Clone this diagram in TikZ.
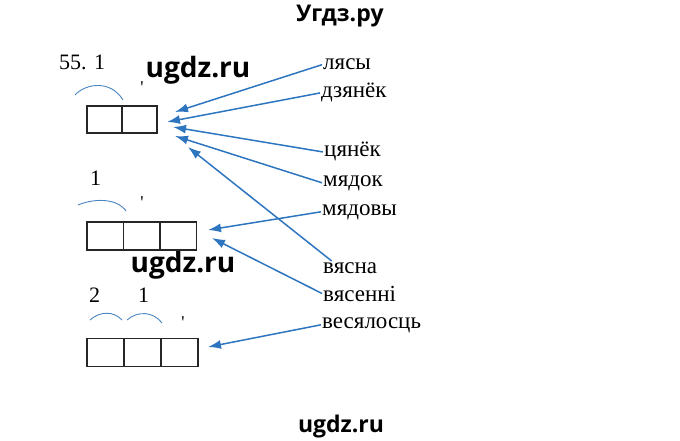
\documentclass[tikz,border=0pt]{standalone}
\usepackage{fontspec}
\setmainfont{Liberation Serif}
\newfontfamily\wmfont{Open Sans}
\usetikzlibrary{arrows.meta}
\definecolor{arrblue}{RGB}{46,117,192}
\definecolor{arcblue}{RGB}{72,132,192}

\begin{document}
\begin{tikzpicture}[x=1pt,y=-1pt]
\tikzset{>={Latex[width=9pt,length=13pt]}}
\tikzstyle{cell} =[draw=black!85,line width=1.2pt,minimum height=28pt,inner sep=0pt]
\tikzstyle{word} =[anchor=base west,inner sep=1pt,font=\fontsize{23}{27}\selectfont]
\tikzstyle{link} =[->,arrblue,line width=1.5pt]
\tikzstyle{arcmark} =[arcblue,line width=0.9pt]
\tikzstyle{tick} =[anchor=north,inner sep=0pt,font=\fontsize{18}{20}\selectfont]
\tikzstyle{wm} =[anchor=base,inner sep=0pt,font=\wmfont\bfseries\fontsize{28}{30}\selectfont]

\useasboundingbox (0,0) rectangle (680,441);

% watermarks
\node[wm,font=\wmfont\bfseries\fontsize{23}{26}\selectfont](m0) at (340,22){Угдз.ру};
\node[wm](m1) at (198,78){ugdz.ru};
\node[wm](m2) at (183,272){ugdz.ru};
\node[wm,font=\wmfont\bfseries\fontsize{23}{26}\selectfont](m3) at (341,432){ugdz.ru};

% numbers
\node[word,font=\fontsize{22}{26}\selectfont](n1) at (58,70){55. 1};
\node[word,font=\fontsize{22}{26}\selectfont](n2) at (89,185){1};
\node[word,font=\fontsize{22}{26}\selectfont](n3) at (88,302){2};
\node[word,font=\fontsize{22}{26}\selectfont](n4) at (137,302){1};

% schemes
\node[cell,minimum width=35pt,minimum height=27pt](c11) at (104.5,119.5){};
\node[cell,minimum width=35pt,minimum height=27pt](c12) at (139.5,119.5){};
\node[cell,minimum width=36.5pt](c21) at (105.25,236){};
\node[cell,minimum width=36.5pt](c22) at (141.75,236){};
\node[cell,minimum width=36.5pt](c23) at (178.25,236){};
\node[cell,minimum width=37pt](c31) at (105.5,352.5){};
\node[cell,minimum width=37pt](c32) at (142.5,352.5){};
\node[cell,minimum width=37pt](c33) at (179.5,352.5){};

% arcs and stress
\draw[arcmark] (75,95) .. controls (86,83) and (111,80) .. (123,100);
\draw[arcmark] (78,205) .. controls (92,199) and (116,197) .. (126,211);
\draw[arcmark] (90,320) .. controls (100,311) and (114,311) .. (122,320);
\draw[arcmark] (127,320) .. controls (137,311) and (153,311) .. (162,323);
\node[tick](s1) at (142,82){\textquotesingle};
\node[tick](s2) at (142,197){\textquotesingle};
\node[tick](s3) at (183,317){\textquotesingle};

% words
\node[word](w1) at (322,70){лясы};
\node[word](w2) at (320,98){дзянёк};
\node[word](w3) at (323,157){цянёк};
\node[word](w4) at (322,186){мядок};
\node[word](w5) at (321,215){мядовы};
\node[word](w6) at (322,273){вясна};
\node[word](w7) at (322,301){вясенні};
\node[word](w8) at (321,328){весялосць};

\coordinate (t1) at (175,112);
\coordinate (t2) at (167,122);
\coordinate (t3) at (173,127);
\coordinate (t4) at (175,136);
\coordinate (t5) at (188,147);
\coordinate (t6) at (208,230);
\coordinate (t7) at (212,238);
\coordinate (t8) at (208,347);

\draw[link] (w1.west) to (t1);
\draw[link] (w2.west) to (t2);
\draw[link] (w3.west) to (t3);
\draw[link] (w4.west) to (t4);
\draw[link] (w6.160) to (t5);
\draw[link] (w5.west) to (t6);
\draw[link] (w7.west) to (t7);
\draw[link] (w8.west) to (t8);
\end{tikzpicture}
\end{document}
